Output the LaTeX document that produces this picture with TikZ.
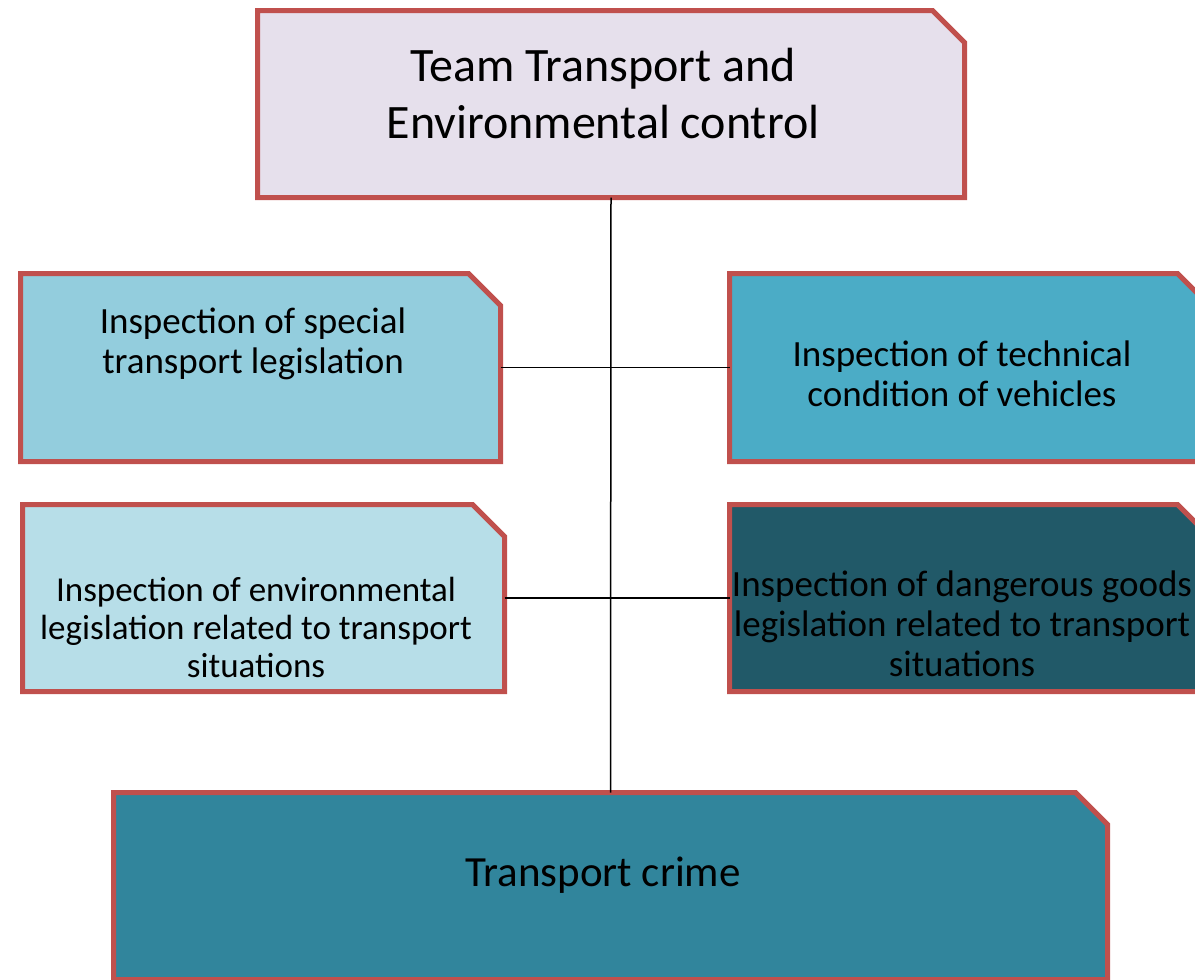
\documentclass[tikz,border=0pt]{standalone}
\usepackage{fontspec}
\setmainfont{Carlito}
\usepackage{xcolor}
\usetikzlibrary{positioning,calc}
\definecolor{boxred}{HTML}{C0504D}
\definecolor{lavender}{HTML}{E6E0EC}
\definecolor{lightblue}{HTML}{93CDDD}
\definecolor{midblue}{HTML}{4BACC6}
\definecolor{paleblue}{HTML}{B7DEE8}
\definecolor{darkteal}{HTML}{215968}
\definecolor{teal}{HTML}{31859C}
\tikzset{
  unit/.style={rectangle, inner sep=0pt, outer sep=0pt},
  snip/.style={draw=boxred, line width=5pt},
  txt/.style={align=center, font=\fontsize{37}{40}\selectfont, inner sep=0pt},
  link/.style={line width=1.5pt, black}
}
% box with the top right corner cut off
\newcommand{\snipbox}[2]{%
  \filldraw[snip,fill=#2] (#1.south west) -- (#1.north west) -- ($(#1.north east)+(-32,0)$)
    -- ($(#1.north east)+(0,32)$) -- (#1.south east) -- cycle;}
\begin{document}
\begin{tikzpicture}[x=1pt,y=-1pt]
 	\useasboundingbox (0,0) rectangle (1195,980);
 	\clip (0,0) rectangle (1195,980);
 	% boxes
 	\node[unit,minimum width=707pt,minimum height=187pt] (team) at (611,104) {};
 	\node[unit,minimum width=480pt,minimum height=188pt] (special) at (260.5,367.5) {};
 	\node[unit,minimum width=480pt,minimum height=188pt] (technical) at (969.5,367.5) {};
 	\node[unit,minimum width=482pt,minimum height=187pt] (environ) at (263.5,598) {};
 	\node[unit,minimum width=480pt,minimum height=187pt] (danger) at (969.5,598) {};
 	\node[unit,minimum width=994pt,minimum height=187pt] (crime) at (610.5,886) {};
 	\snipbox{team}{lavender}
 	\snipbox{special}{lightblue}
 	\snipbox{technical}{midblue}
 	\snipbox{environ}{paleblue}
 	\snipbox{danger}{darkteal}
 	\snipbox{crime}{teal}
 	% connectors
 	\draw[link] (team.south) -- (crime.north);
 	\draw[link] (special.east) -- (technical.west);
 	\draw[link] (environ.east) -- (danger.west);
 	% texts
 	\node[txt,font=\fontsize{48}{57}\selectfont] (teamtxt) at (603,93.5) {Team Transport and\\Environmental control};
 	\node[txt] (specialtxt) at (253,343.5) {Inspection of special\\transport legislation};
 	\node[txt] (technicaltxt) at (962,373.5) {Inspection of technical\\condition of vehicles};
 	\node[txt,font=\fontsize{35}{38}\selectfont] (environtxt) at (256,627) {Inspection of environmental\\legislation related to transport\\situations};
 	\node[txt] (dangertxt) at (962,624) {Inspection of dangerous goods\\legislation related to transport\\situations};
 	\node[txt,font=\fontsize{43}{50}\selectfont] (crimetxt) at (603,875) {Transport crime};
\end{tikzpicture}
\end{document}
